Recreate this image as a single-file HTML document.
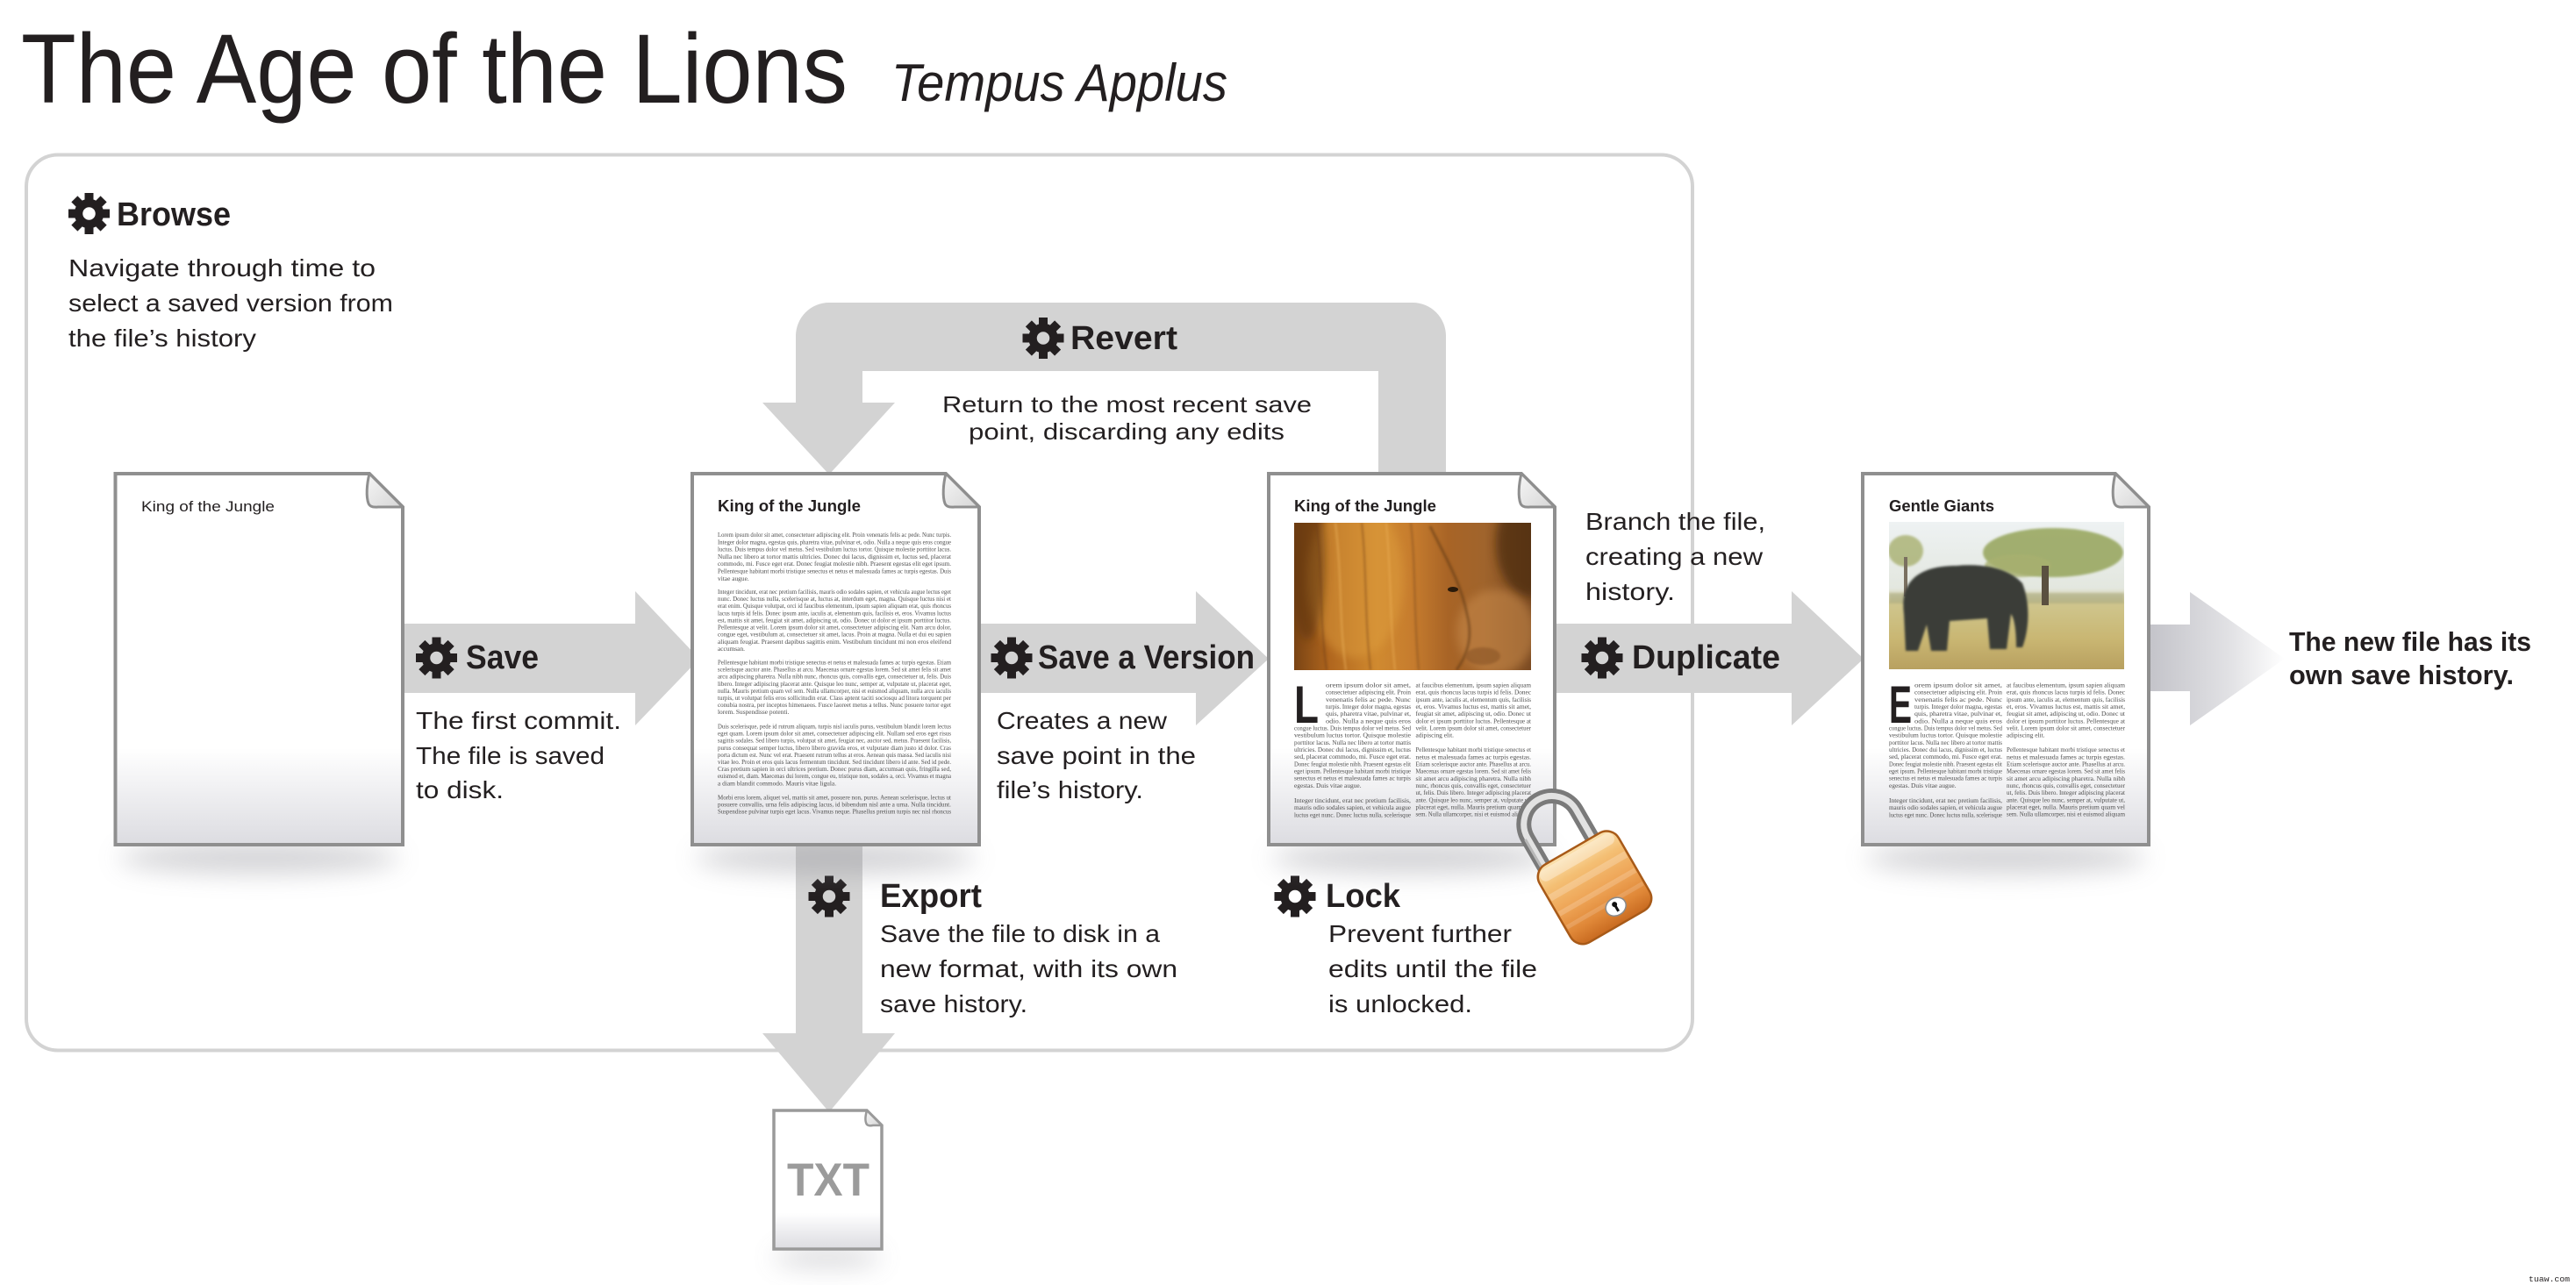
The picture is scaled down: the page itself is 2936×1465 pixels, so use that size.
<!DOCTYPE html>
<html><head><meta charset="utf-8">
<style>
html,body{margin:0;padding:0;background:#fff;}
svg{display:block;}
text{font-family:"Liberation Sans",sans-serif;fill:#231f20;}
.h{font-size:38px;font-weight:bold;}
.d{font-size:28px;}
.r{font-size:26px;}
.s{font-family:"Liberation Serif",serif;font-size:7.4px;fill:#4e4e4e;}
.t{font-size:18px;font-weight:bold;}
</style></head><body>
<svg width="2936" height="1465" viewBox="0 0 2936 1465" xmlns="http://www.w3.org/2000/svg">
<defs>
 <linearGradient id="docg" x1="0" y1="0" x2="0" y2="1">
  <stop offset="0" stop-color="#fff"/><stop offset="0.74" stop-color="#fff"/><stop offset="1" stop-color="#dcdce1"/>
 </linearGradient>
 <linearGradient id="curl" x1="0" y1="0" x2="1" y2="1">
  <stop offset="0" stop-color="#f6f6f6"/><stop offset="1" stop-color="#d6d6d6"/>
 </linearGradient>
 <linearGradient id="fg" gradientUnits="userSpaceOnUse" x1="2451" y1="0" x2="2604" y2="0">
  <stop offset="0" stop-color="#c4c4ca"/><stop offset="0.6" stop-color="#e2e2e5"/><stop offset="1" stop-color="#ffffff"/>
 </linearGradient>
 <linearGradient id="lion" x1="0" y1="0" x2="1" y2="0">
  <stop offset="0" stop-color="#7a4414"/><stop offset="0.15" stop-color="#b0661e"/><stop offset="0.35" stop-color="#d08a30"/>
  <stop offset="0.5" stop-color="#c67c2e"/><stop offset="0.65" stop-color="#a86426"/><stop offset="0.8" stop-color="#a0642c"/>
  <stop offset="1" stop-color="#7a4a22"/>
 </linearGradient>
 <linearGradient id="sky" x1="0" y1="0" x2="0" y2="1">
  <stop offset="0" stop-color="#eef2f3"/><stop offset="0.45" stop-color="#e3e7df"/><stop offset="0.55" stop-color="#cfc68e"/>
  <stop offset="0.8" stop-color="#c9b672"/><stop offset="1" stop-color="#b8a060"/>
 </linearGradient>
 <linearGradient id="lockg" x1="0" y1="0" x2="0" y2="1">
  <stop offset="0" stop-color="#fbe2b0"/><stop offset="0.25" stop-color="#f4bf74"/><stop offset="0.55" stop-color="#eea456"/>
  <stop offset="0.8" stop-color="#e08838"/><stop offset="1" stop-color="#c86a20"/>
 </linearGradient>
 <filter id="bl" x="-50%" y="-150%" width="200%" height="400%"><feGaussianBlur stdDeviation="14"/></filter>
 <filter id="b2" x="-30%" y="-30%" width="160%" height="160%"><feGaussianBlur stdDeviation="5"/></filter>
 <filter id="b1" x="-20%" y="-20%" width="140%" height="140%"><feGaussianBlur stdDeviation="1.2"/></filter>
 <clipPath id="lc"><rect x="1475" y="596" width="270" height="168"/></clipPath>
 <clipPath id="ec"><rect x="2153" y="595" width="268" height="168"/></clipPath>
 <g id="gear" fill="#231f20">
  <circle r="12" fill="none" stroke="#231f20" stroke-width="9.5"/>
  <rect x="-5" y="-23.5" width="10" height="9"/>
  <rect x="-5" y="-23.5" width="10" height="9" transform="rotate(45)"/>
  <rect x="-5" y="-23.5" width="10" height="9" transform="rotate(90)"/>
  <rect x="-5" y="-23.5" width="10" height="9" transform="rotate(135)"/>
  <rect x="-5" y="-23.5" width="10" height="9" transform="rotate(180)"/>
  <rect x="-5" y="-23.5" width="10" height="9" transform="rotate(225)"/>
  <rect x="-5" y="-23.5" width="10" height="9" transform="rotate(270)"/>
  <rect x="-5" y="-23.5" width="10" height="9" transform="rotate(315)"/>
 </g>
</defs>

<!-- Title -->
<text x="24" y="117" font-size="112" textLength="942" lengthAdjust="spacingAndGlyphs">The Age of the Lions</text>
<text x="1016" y="115" font-size="60" font-style="italic" textLength="383" lengthAdjust="spacingAndGlyphs">Tempus Applus</text>

<!-- Big box -->
<rect x="30" y="176.5" width="1899" height="1021" rx="36" fill="none" stroke="#d3d3d3" stroke-width="4"/>

<!-- Browse -->
<use href="#gear" x="101.5" y="243.5"/>
<text class="h" x="133" y="257" textLength="130" lengthAdjust="spacingAndGlyphs">Browse</text>
<text class="d" x="78" y="315" textLength="350" lengthAdjust="spacingAndGlyphs">Navigate through time to</text>
<text class="d" x="78" y="355" textLength="370" lengthAdjust="spacingAndGlyphs">select a saved version from</text>
<text class="d" x="78" y="395" textLength="214" lengthAdjust="spacingAndGlyphs">the file’s history</text>

<!-- Revert loop -->
<path fill="#d3d3d3" d="M907,459 V383 A38,38 0 0 1 945,345 H1610 A38,38 0 0 1 1648,383 V545 H1571 V423 H983 V459 Z"/>
<polygon fill="#d3d3d3" points="869,459 1020,459 945,541"/>
<use href="#gear" x="1189" y="385.5"/>
<text class="h" x="1220" y="398" textLength="122" lengthAdjust="spacingAndGlyphs">Revert</text>
<text class="r" x="1074" y="470" textLength="421" lengthAdjust="spacingAndGlyphs">Return to the most recent save</text>
<text class="r" x="1104" y="501" textLength="360" lengthAdjust="spacingAndGlyphs">point, discarding any edits</text>

<!-- Export -->
<rect x="907" y="958" width="76" height="222" fill="#d3d3d3"/>
<polygon fill="#d3d3d3" points="869,1178 1020,1178 945,1268"/>
<use href="#gear" x="945" y="1022"/>
<text class="h" x="1003" y="1034" textLength="116" lengthAdjust="spacingAndGlyphs">Export</text>
<text class="d" x="1003" y="1074" textLength="319" lengthAdjust="spacingAndGlyphs">Save the file to disk in a</text>
<text class="d" x="1003" y="1114" textLength="339" lengthAdjust="spacingAndGlyphs">new format, with its own</text>
<text class="d" x="1003" y="1154" textLength="168" lengthAdjust="spacingAndGlyphs">save history.</text>

<!-- Lock -->
<use href="#gear" x="1476" y="1022"/>
<text class="h" x="1511" y="1034" textLength="85" lengthAdjust="spacingAndGlyphs">Lock</text>
<text class="d" x="1514" y="1074" textLength="209" lengthAdjust="spacingAndGlyphs">Prevent further</text>
<text class="d" x="1514" y="1114" textLength="238" lengthAdjust="spacingAndGlyphs">edits until the file</text>
<text class="d" x="1514" y="1154" textLength="164" lengthAdjust="spacingAndGlyphs">is unlocked.</text>

<!-- Save arrow -->
<rect x="455" y="711" width="271" height="79" fill="#d3d3d3"/>
<polygon fill="#d3d3d3" points="724,674 797,751 724,827"/>
<use href="#gear" x="497.5" y="750"/>
<text class="h" x="531" y="762" textLength="83" lengthAdjust="spacingAndGlyphs">Save</text>
<text class="d" x="474" y="831" textLength="234" lengthAdjust="spacingAndGlyphs">The first commit.</text>
<text class="d" x="474" y="871" textLength="215" lengthAdjust="spacingAndGlyphs">The file is saved</text>
<text class="d" x="474" y="910" textLength="100" lengthAdjust="spacingAndGlyphs">to disk.</text>

<!-- Save a Version arrow -->
<rect x="1112" y="711" width="253" height="79" fill="#d3d3d3"/>
<polygon fill="#d3d3d3" points="1363,674 1446,751 1363,827"/>
<use href="#gear" x="1153" y="750"/>
<text class="h" x="1183" y="762" textLength="247" lengthAdjust="spacingAndGlyphs">Save a Version</text>
<text class="d" x="1136" y="831" textLength="194" lengthAdjust="spacingAndGlyphs">Creates a new</text>
<text class="d" x="1136" y="871" textLength="227" lengthAdjust="spacingAndGlyphs">save point in the</text>
<text class="d" x="1136" y="910" textLength="167" lengthAdjust="spacingAndGlyphs">file’s history.</text>

<!-- Duplicate arrow -->
<rect x="1768" y="711" width="276" height="79" fill="#d3d3d3"/>
<polygon fill="#d3d3d3" points="2042,674 2124,751 2042,827"/>
<use href="#gear" x="1826" y="750"/>
<text class="h" x="1860" y="762" textLength="169" lengthAdjust="spacingAndGlyphs">Duplicate</text>
<text class="d" x="1807" y="604" textLength="205" lengthAdjust="spacingAndGlyphs">Branch the file,</text>
<text class="d" x="1807" y="644" textLength="202" lengthAdjust="spacingAndGlyphs">creating a new</text>
<text class="d" x="1807" y="684" textLength="102" lengthAdjust="spacingAndGlyphs">history.</text>

<!-- Final arrow -->
<path fill="url(#fg)" d="M2449,712 H2496 V675 L2604,751 L2496,827 V788 H2449 Z"/>
<text x="2609" y="742" font-size="31" font-weight="bold" textLength="276" lengthAdjust="spacingAndGlyphs">The new file has its</text>
<text x="2609" y="780" font-size="31" font-weight="bold" textLength="256" lengthAdjust="spacingAndGlyphs">own save history.</text>

<!-- Shadows -->
<ellipse cx="295" cy="978" rx="160" ry="18" fill="#8c8c94" opacity="0.38" filter="url(#bl)"/>
<ellipse cx="952" cy="978" rx="160" ry="18" fill="#8c8c94" opacity="0.38" filter="url(#bl)"/>
<ellipse cx="1609" cy="978" rx="160" ry="18" fill="#8c8c94" opacity="0.38" filter="url(#bl)"/>
<ellipse cx="2286" cy="978" rx="160" ry="18" fill="#8c8c94" opacity="0.38" filter="url(#bl)"/>
<ellipse cx="943" cy="1434" rx="62" ry="9" fill="#8c8c94" opacity="0.4" filter="url(#bl)"/>

<!-- Doc 1 -->
<path d="M131.5,540 H421 L459,578 V963 H131.5 Z" fill="url(#docg)" stroke="#8f8f8f" stroke-width="4"/>
<path d="M421,540 C418,552 417,566 420,574 Q422,579 431,578 L459,578 Z" fill="url(#curl)" stroke="#8f8f8f" stroke-width="3" stroke-linejoin="round"/>
<text x="161" y="583" font-size="17" textLength="152" lengthAdjust="spacingAndGlyphs">King of the Jungle</text>

<!-- Doc 2 -->
<path d="M789,540 H1078 L1116,578 V963 H789 Z" fill="url(#docg)" stroke="#8f8f8f" stroke-width="4"/>
<path d="M1078,540 C1075,552 1074,566 1077,574 Q1079,579 1088,578 L1116,578 Z" fill="url(#curl)" stroke="#8f8f8f" stroke-width="3" stroke-linejoin="round"/>
<text class="t" x="818" y="583" textLength="163" lengthAdjust="spacingAndGlyphs">King of the Jungle</text>
<g>
<text class="s" x="818" y="612" textLength="266" lengthAdjust="spacingAndGlyphs">Lorem ipsum dolor sit amet, consectetuer adipiscing elit. Proin venenatis felis ac pede. Nunc turpis.</text>
<text class="s" x="818" y="620.3" textLength="266" lengthAdjust="spacingAndGlyphs">Integer dolor magna, egestas quis, pharetra vitae, pulvinar et, odio. Nulla a neque quis eros congue</text>
<text class="s" x="818" y="628.6" textLength="266" lengthAdjust="spacingAndGlyphs">luctus. Duis tempus dolor vel metus. Sed vestibulum luctus tortor. Quisque molestie porttitor lacus.</text>
<text class="s" x="818" y="636.9" textLength="266" lengthAdjust="spacingAndGlyphs">Nulla nec libero at tortor mattis ultricies. Donec dui lacus, dignissim et, luctus sed, placerat</text>
<text class="s" x="818" y="645.2" textLength="266" lengthAdjust="spacingAndGlyphs">commodo, mi. Fusce eget erat. Donec feugiat molestie nibh. Praesent egestas elit eget ipsum.</text>
<text class="s" x="818" y="653.5" textLength="266" lengthAdjust="spacingAndGlyphs">Pellentesque habitant morbi tristique senectus et netus et malesuada fames ac turpis egestas. Duis</text>
<text class="s" x="818" y="661.8">vitae augue.</text>

<text class="s" x="818" y="677" textLength="266" lengthAdjust="spacingAndGlyphs">Integer tincidunt, erat nec pretium facilisis, mauris odio sodales sapien, et vehicula augue lectus eget</text>
<text class="s" x="818" y="685.1" textLength="266" lengthAdjust="spacingAndGlyphs">nunc. Donec luctus nulla, scelerisque at, luctus at, interdum eget, magna. Quisque luctus nisi et</text>
<text class="s" x="818" y="693.2" textLength="266" lengthAdjust="spacingAndGlyphs">erat enim. Quisque volutpat, orci id faucibus elementum, ipsum sapien aliquam erat, quis rhoncus</text>
<text class="s" x="818" y="701.4" textLength="266" lengthAdjust="spacingAndGlyphs">lacus turpis id felis. Donec ipsum ante, iaculis at, elementum quis, facilisis et, eros. Vivamus luctus</text>
<text class="s" x="818" y="709.5" textLength="266" lengthAdjust="spacingAndGlyphs">est, mattis sit amet, feugiat sit amet, adipiscing ut, odio. Donec ut dolor et ipsum porttitor luctus.</text>
<text class="s" x="818" y="717.6" textLength="266" lengthAdjust="spacingAndGlyphs">Pellentesque at velit. Lorem ipsum dolor sit amet, consectetuer adipiscing elit. Nam arcu dolor,</text>
<text class="s" x="818" y="725.7" textLength="266" lengthAdjust="spacingAndGlyphs">congue eget, vestibulum at, consectetuer sit amet, lacus. Proin at magna. Nulla et dui eu sapien</text>
<text class="s" x="818" y="733.8" textLength="266" lengthAdjust="spacingAndGlyphs">aliquam feugiat. Praesent dapibus sagittis enim. Vestibulum tincidunt mi non eros eleifend</text>
<text class="s" x="818" y="742">accumsan.</text>

<text class="s" x="818" y="757.5" textLength="266" lengthAdjust="spacingAndGlyphs">Pellentesque habitant morbi tristique senectus et netus et malesuada fames ac turpis egestas. Etiam</text>
<text class="s" x="818" y="765.6" textLength="266" lengthAdjust="spacingAndGlyphs">scelerisque auctor ante. Phasellus at arcu. Maecenas ornare egestas lorem. Sed sit amet felis sit amet</text>
<text class="s" x="818" y="773.7" textLength="266" lengthAdjust="spacingAndGlyphs">arcu adipiscing pharetra. Nulla nibh nunc, rhoncus quis, convallis eget, consectetuer ut, felis. Duis</text>
<text class="s" x="818" y="781.8" textLength="266" lengthAdjust="spacingAndGlyphs">libero. Integer adipiscing placerat ante. Quisque leo nunc, semper at, vulputate ut, placerat eget,</text>
<text class="s" x="818" y="789.9" textLength="266" lengthAdjust="spacingAndGlyphs">nulla. Mauris pretium quam vel sem. Nulla ullamcorper, nisi et euismod aliquam, nulla arcu iaculis</text>
<text class="s" x="818" y="798" textLength="266" lengthAdjust="spacingAndGlyphs">turpis, ut volutpat felis eros sollicitudin erat. Class aptent taciti sociosqu ad litora torquent per</text>
<text class="s" x="818" y="806.1" textLength="266" lengthAdjust="spacingAndGlyphs">conubia nostra, per inceptos himenaeos. Fusce laoreet metus a tellus. Nunc posuere tortor eget</text>
<text class="s" x="818" y="814.2">lorem. Suspendisse potenti.</text>

<text class="s" x="818" y="830.5" textLength="266" lengthAdjust="spacingAndGlyphs">Duis scelerisque, pede id rutrum aliquam, turpis nisl iaculis purus, vestibulum blandit lorem lectus</text>
<text class="s" x="818" y="838.6" textLength="266" lengthAdjust="spacingAndGlyphs">eget quam. Lorem ipsum dolor sit amet, consectetuer adipiscing elit. Nullam sed eros eget risus</text>
<text class="s" x="818" y="846.7" textLength="266" lengthAdjust="spacingAndGlyphs">sagittis sodales. Sed libero turpis, volutpat sit amet, feugiat nec, auctor sed, metus. Praesent facilisis,</text>
<text class="s" x="818" y="854.8" textLength="266" lengthAdjust="spacingAndGlyphs">purus consequat semper luctus, libero libero gravida eros, et vulputate diam justo id dolor. Cras</text>
<text class="s" x="818" y="862.9" textLength="266" lengthAdjust="spacingAndGlyphs">porta dictum est. Nunc vel erat. Praesent rutrum tellus at eros. Aenean quis massa. Sed iaculis nisi</text>
<text class="s" x="818" y="871" textLength="266" lengthAdjust="spacingAndGlyphs">vitae leo. Proin et eros quis lacus fermentum tincidunt. Sed tincidunt libero id ante. Sed id pede.</text>
<text class="s" x="818" y="879.1" textLength="266" lengthAdjust="spacingAndGlyphs">Cras pretium sapien in orci ultrices pretium. Donec purus diam, accumsan quis, fringilla sed,</text>
<text class="s" x="818" y="887.2" textLength="266" lengthAdjust="spacingAndGlyphs">euismod et, diam. Maecenas dui lorem, congue eu, tristique non, sodales a, orci. Vivamus et magna</text>
<text class="s" x="818" y="895.3">a diam blandit commodo. Mauris vitae ligula.</text>

<text class="s" x="818" y="911.5" textLength="266" lengthAdjust="spacingAndGlyphs">Morbi eros lorem, aliquet vel, mattis sit amet, posuere non, purus. Aenean scelerisque, lectus ut</text>
<text class="s" x="818" y="919.6" textLength="266" lengthAdjust="spacingAndGlyphs">posuere convallis, urna felis adipiscing lacus, id bibendum nisl ante a urna. Nulla tincidunt.</text>
<text class="s" x="818" y="927.7" textLength="266" lengthAdjust="spacingAndGlyphs">Suspendisse pulvinar turpis eget lacus. Vivamus neque. Phasellus pretium turpis nec nisl rhoncus</text>
</g>

<!-- Doc 3 -->
<path d="M1446,540 H1734 L1772,578 V963 H1446 Z" fill="url(#docg)" stroke="#8f8f8f" stroke-width="4"/>
<path d="M1734,540 C1731,552 1730,566 1733,574 Q1735,579 1744,578 L1772,578 Z" fill="url(#curl)" stroke="#8f8f8f" stroke-width="3" stroke-linejoin="round"/>
<text class="t" x="1475" y="583" textLength="162" lengthAdjust="spacingAndGlyphs">King of the Jungle</text>
<g clip-path="url(#lc)">
 <rect x="1475" y="596" width="270" height="168" fill="url(#lion)"/>
 <ellipse cx="1545" cy="660" rx="55" ry="90" fill="#e0a040" opacity="0.45" filter="url(#b2)"/>
 <ellipse cx="1490" cy="640" rx="20" ry="90" fill="#5a300c" opacity="0.55" filter="url(#b2)"/>
 <ellipse cx="1745" cy="620" rx="40" ry="60" fill="#4a2a10" opacity="0.7" filter="url(#b2)"/>
 <ellipse cx="1705" cy="720" rx="45" ry="48" fill="#c88a4c" opacity="0.55" filter="url(#b2)"/>
 <g filter="url(#b1)" stroke-width="2" fill="none" opacity="0.5">
  <path d="M1500,596 C1508,650 1503,700 1512,764" stroke="#6a3a12"/>
  <path d="M1522,596 C1530,660 1526,710 1534,764" stroke="#f0b860"/>
  <path d="M1552,596 C1558,650 1555,700 1562,764" stroke="#7a4416"/>
  <path d="M1580,596 C1586,660 1584,710 1590,764" stroke="#eeb25a"/>
  <path d="M1608,596 C1614,650 1611,700 1617,764" stroke="#7a4a1a"/>
 </g>
 <path d="M1630,600 C1650,640 1665,665 1672,700 C1680,730 1670,750 1660,764" fill="none" stroke="#5a3412" stroke-width="3" opacity="0.5" filter="url(#b1)"/>
 <ellipse cx="1656" cy="672" rx="6" ry="3" fill="#2a1a0a"/>
 <ellipse cx="1690" cy="748" rx="20" ry="10" fill="#8a5428" opacity="0.6" filter="url(#b1)"/>
</g>
<text x="1475" y="824" font-size="60" font-weight="bold" textLength="28" lengthAdjust="spacingAndGlyphs">L</text>
<g>
<text class="s" x="1511" y="783.5" textLength="97" lengthAdjust="spacingAndGlyphs">orem ipsum dolor sit amet,</text>
<text class="s" x="1511" y="791.7" textLength="97" lengthAdjust="spacingAndGlyphs">consectetuer adipiscing elit. Proin</text>
<text class="s" x="1511" y="799.8" textLength="97" lengthAdjust="spacingAndGlyphs">venenatis felis ac pede. Nunc</text>
<text class="s" x="1511" y="808" textLength="97" lengthAdjust="spacingAndGlyphs">turpis. Integer dolor magna, egestas</text>
<text class="s" x="1511" y="816.2" textLength="97" lengthAdjust="spacingAndGlyphs">quis, pharetra vitae, pulvinar et,</text>
<text class="s" x="1511" y="824.4" textLength="97" lengthAdjust="spacingAndGlyphs">odio. Nulla a neque quis eros</text>
<text class="s" x="1475" y="832.5" textLength="133" lengthAdjust="spacingAndGlyphs">congue luctus. Duis tempus dolor vel metus. Sed</text>
<text class="s" x="1475" y="840.7" textLength="133" lengthAdjust="spacingAndGlyphs">vestibulum luctus tortor. Quisque molestie</text>
<text class="s" x="1475" y="848.9" textLength="133" lengthAdjust="spacingAndGlyphs">porttitor lacus. Nulla nec libero at tortor mattis</text>
<text class="s" x="1475" y="857" textLength="133" lengthAdjust="spacingAndGlyphs">ultricies. Donec dui lacus, dignissim et, luctus</text>
<text class="s" x="1475" y="865.2" textLength="133" lengthAdjust="spacingAndGlyphs">sed, placerat commodo, mi. Fusce eget erat.</text>
<text class="s" x="1475" y="873.4" textLength="133" lengthAdjust="spacingAndGlyphs">Donec feugiat molestie nibh. Praesent egestas elit</text>
<text class="s" x="1475" y="881.5" textLength="133" lengthAdjust="spacingAndGlyphs">eget ipsum. Pellentesque habitant morbi tristique</text>
<text class="s" x="1475" y="889.7" textLength="133" lengthAdjust="spacingAndGlyphs">senectus et netus et malesuada fames ac turpis</text>
<text class="s" x="1475" y="897.9">egestas. Duis vitae augue.</text>
<text class="s" x="1475" y="915" textLength="133" lengthAdjust="spacingAndGlyphs">Integer tincidunt, erat nec pretium facilisis,</text>
<text class="s" x="1475" y="923.2" textLength="133" lengthAdjust="spacingAndGlyphs">mauris odio sodales sapien, et vehicula augue</text>
<text class="s" x="1475" y="931.4" textLength="133" lengthAdjust="spacingAndGlyphs">luctus eget nunc. Donec luctus nulla, scelerisque</text>

<text class="s" x="1613.5" y="783.5" textLength="131.5" lengthAdjust="spacingAndGlyphs">at faucibus elementum, ipsum sapien aliquam</text>
<text class="s" x="1613.5" y="791.7" textLength="131.5" lengthAdjust="spacingAndGlyphs">erat, quis rhoncus lacus turpis id felis. Donec</text>
<text class="s" x="1613.5" y="799.8" textLength="131.5" lengthAdjust="spacingAndGlyphs">ipsum ante, iaculis at, elementum quis, facilisis</text>
<text class="s" x="1613.5" y="808" textLength="131.5" lengthAdjust="spacingAndGlyphs">et, eros. Vivamus luctus est, mattis sit amet,</text>
<text class="s" x="1613.5" y="816.2" textLength="131.5" lengthAdjust="spacingAndGlyphs">feugiat sit amet, adipiscing ut, odio. Donec ut</text>
<text class="s" x="1613.5" y="824.4" textLength="131.5" lengthAdjust="spacingAndGlyphs">dolor et ipsum porttitor luctus. Pellentesque at</text>
<text class="s" x="1613.5" y="832.5" textLength="131.5" lengthAdjust="spacingAndGlyphs">velit. Lorem ipsum dolor sit amet, consectetuer</text>
<text class="s" x="1613.5" y="840.7">adipiscing elit.</text>
<text class="s" x="1613.5" y="857.2" textLength="131.5" lengthAdjust="spacingAndGlyphs">Pellentesque habitant morbi tristique senectus et</text>
<text class="s" x="1613.5" y="865.4" textLength="131.5" lengthAdjust="spacingAndGlyphs">netus et malesuada fames ac turpis egestas.</text>
<text class="s" x="1613.5" y="873.5" textLength="131.5" lengthAdjust="spacingAndGlyphs">Etiam scelerisque auctor ante. Phasellus at arcu.</text>
<text class="s" x="1613.5" y="881.7" textLength="131.5" lengthAdjust="spacingAndGlyphs">Maecenas ornare egestas lorem. Sed sit amet felis</text>
<text class="s" x="1613.5" y="889.9" textLength="131.5" lengthAdjust="spacingAndGlyphs">sit amet arcu adipiscing pharetra. Nulla nibh</text>
<text class="s" x="1613.5" y="898" textLength="131.5" lengthAdjust="spacingAndGlyphs">nunc, rhoncus quis, convallis eget, consectetuer</text>
<text class="s" x="1613.5" y="906.2" textLength="131.5" lengthAdjust="spacingAndGlyphs">ut, felis. Duis libero. Integer adipiscing placerat</text>
<text class="s" x="1613.5" y="914.4" textLength="131.5" lengthAdjust="spacingAndGlyphs">ante. Quisque leo nunc, semper at, vulputate ut,</text>
<text class="s" x="1613.5" y="922.6" textLength="131.5" lengthAdjust="spacingAndGlyphs">placerat eget, nulla. Mauris pretium quam vel</text>
<text class="s" x="1613.5" y="930.7" textLength="131.5" lengthAdjust="spacingAndGlyphs">sem. Nulla ullamcorper, nisi et euismod aliquam</text>
</g>

<!-- Doc 4 -->
<path d="M2123,540 H2411 L2449,578 V963 H2123 Z" fill="url(#docg)" stroke="#8f8f8f" stroke-width="4"/>
<path d="M2411,540 C2408,552 2407,566 2410,574 Q2412,579 2421,578 L2449,578 Z" fill="url(#curl)" stroke="#8f8f8f" stroke-width="3" stroke-linejoin="round"/>
<text class="t" x="2153" y="583" textLength="120" lengthAdjust="spacingAndGlyphs">Gentle Giants</text>
<g clip-path="url(#ec)">
 <rect x="2153" y="595" width="268" height="168" fill="url(#sky)"/>
 <rect x="2153" y="676" width="268" height="12" fill="#a8a87e" opacity="0.6" filter="url(#b1)"/>
 <ellipse cx="2340" cy="630" rx="80" ry="28" fill="#9aa862" opacity="0.9" filter="url(#b1)"/>
 <ellipse cx="2300" cy="645" rx="38" ry="13" fill="#a8b070" opacity="0.8" filter="url(#b1)"/>
 <rect x="2327" y="645" width="8" height="45" fill="#5a5040"/>
 <ellipse cx="2172" cy="628" rx="20" ry="18" fill="#a8b070" opacity="0.8" filter="url(#b1)"/>
 <rect x="2170" y="635" width="4" height="45" fill="#7a7060"/>
 <path d="M2170,700 C2165,660 2190,645 2230,645 C2260,642 2290,648 2305,665 C2315,690 2312,720 2305,738 L2298,738 C2298,720 2296,705 2292,700 L2287,740 L2268,740 L2265,705 L2222,708 L2219,742 L2201,742 L2196,712 L2186,742 L2172,742 Z" fill="#3a3c38" filter="url(#b1)"/>
</g>
<text x="2153" y="824" font-size="60" font-weight="bold" textLength="26" lengthAdjust="spacingAndGlyphs">E</text>
<g>
<text class="s" x="2182" y="783.5" textLength="100" lengthAdjust="spacingAndGlyphs">orem ipsum dolor sit amet,</text>
<text class="s" x="2182" y="791.7" textLength="100" lengthAdjust="spacingAndGlyphs">consectetuer adipiscing elit. Proin</text>
<text class="s" x="2182" y="799.8" textLength="100" lengthAdjust="spacingAndGlyphs">venenatis felis ac pede. Nunc</text>
<text class="s" x="2182" y="808" textLength="100" lengthAdjust="spacingAndGlyphs">turpis. Integer dolor magna, egestas</text>
<text class="s" x="2182" y="816.2" textLength="100" lengthAdjust="spacingAndGlyphs">quis, pharetra vitae, pulvinar et,</text>
<text class="s" x="2182" y="824.4" textLength="100" lengthAdjust="spacingAndGlyphs">odio. Nulla a neque quis eros</text>
<text class="s" x="2153" y="832.5" textLength="129" lengthAdjust="spacingAndGlyphs">congue luctus. Duis tempus dolor vel metus. Sed</text>
<text class="s" x="2153" y="840.7" textLength="129" lengthAdjust="spacingAndGlyphs">vestibulum luctus tortor. Quisque molestie</text>
<text class="s" x="2153" y="848.9" textLength="129" lengthAdjust="spacingAndGlyphs">porttitor lacus. Nulla nec libero at tortor mattis</text>
<text class="s" x="2153" y="857" textLength="129" lengthAdjust="spacingAndGlyphs">ultricies. Donec dui lacus, dignissim et, luctus</text>
<text class="s" x="2153" y="865.2" textLength="129" lengthAdjust="spacingAndGlyphs">sed, placerat commodo, mi. Fusce eget erat.</text>
<text class="s" x="2153" y="873.4" textLength="129" lengthAdjust="spacingAndGlyphs">Donec feugiat molestie nibh. Praesent egestas elit</text>
<text class="s" x="2153" y="881.5" textLength="129" lengthAdjust="spacingAndGlyphs">eget ipsum. Pellentesque habitant morbi tristique</text>
<text class="s" x="2153" y="889.7" textLength="129" lengthAdjust="spacingAndGlyphs">senectus et netus et malesuada fames ac turpis</text>
<text class="s" x="2153" y="897.9">egestas. Duis vitae augue.</text>
<text class="s" x="2153" y="915" textLength="129" lengthAdjust="spacingAndGlyphs">Integer tincidunt, erat nec pretium facilisis,</text>
<text class="s" x="2153" y="923.2" textLength="129" lengthAdjust="spacingAndGlyphs">mauris odio sodales sapien, et vehicula augue</text>
<text class="s" x="2153" y="931.4" textLength="129" lengthAdjust="spacingAndGlyphs">luctus eget nunc. Donec luctus nulla, scelerisque</text>

<text class="s" x="2287" y="783.5" textLength="135" lengthAdjust="spacingAndGlyphs">at faucibus elementum, ipsum sapien aliquam</text>
<text class="s" x="2287" y="791.7" textLength="135" lengthAdjust="spacingAndGlyphs">erat, quis rhoncus lacus turpis id felis. Donec</text>
<text class="s" x="2287" y="799.8" textLength="135" lengthAdjust="spacingAndGlyphs">ipsum ante, iaculis at, elementum quis, facilisis</text>
<text class="s" x="2287" y="808" textLength="135" lengthAdjust="spacingAndGlyphs">et, eros. Vivamus luctus est, mattis sit amet,</text>
<text class="s" x="2287" y="816.2" textLength="135" lengthAdjust="spacingAndGlyphs">feugiat sit amet, adipiscing ut, odio. Donec ut</text>
<text class="s" x="2287" y="824.4" textLength="135" lengthAdjust="spacingAndGlyphs">dolor et ipsum porttitor luctus. Pellentesque at</text>
<text class="s" x="2287" y="832.5" textLength="135" lengthAdjust="spacingAndGlyphs">velit. Lorem ipsum dolor sit amet, consectetuer</text>
<text class="s" x="2287" y="840.7">adipiscing elit.</text>
<text class="s" x="2287" y="857.2" textLength="135" lengthAdjust="spacingAndGlyphs">Pellentesque habitant morbi tristique senectus et</text>
<text class="s" x="2287" y="865.4" textLength="135" lengthAdjust="spacingAndGlyphs">netus et malesuada fames ac turpis egestas.</text>
<text class="s" x="2287" y="873.5" textLength="135" lengthAdjust="spacingAndGlyphs">Etiam scelerisque auctor ante. Phasellus at arcu.</text>
<text class="s" x="2287" y="881.7" textLength="135" lengthAdjust="spacingAndGlyphs">Maecenas ornare egestas lorem. Sed sit amet felis</text>
<text class="s" x="2287" y="889.9" textLength="135" lengthAdjust="spacingAndGlyphs">sit amet arcu adipiscing pharetra. Nulla nibh</text>
<text class="s" x="2287" y="898" textLength="135" lengthAdjust="spacingAndGlyphs">nunc, rhoncus quis, convallis eget, consectetuer</text>
<text class="s" x="2287" y="906.2" textLength="135" lengthAdjust="spacingAndGlyphs">ut, felis. Duis libero. Integer adipiscing placerat</text>
<text class="s" x="2287" y="914.4" textLength="135" lengthAdjust="spacingAndGlyphs">ante. Quisque leo nunc, semper at, vulputate ut,</text>
<text class="s" x="2287" y="922.6" textLength="135" lengthAdjust="spacingAndGlyphs">placerat eget, nulla. Mauris pretium quam vel</text>
<text class="s" x="2287" y="930.7" textLength="135" lengthAdjust="spacingAndGlyphs">sem. Nulla ullamcorper, nisi et euismod aliquam</text>
</g>

<!-- TXT doc -->
<path d="M882,1266 H988 L1005,1283 V1424 H882 Z" fill="url(#docg)" stroke="#9a9a9a" stroke-width="3.5"/>
<path d="M988,1266 C986,1273 986,1279 988,1282 Q990,1284 995,1283 L1005,1283 Z" fill="url(#curl)" stroke="#9a9a9a" stroke-width="2.5" stroke-linejoin="round"/>
<text x="897" y="1363" font-size="53" font-weight="bold" style="fill:#9b9b9b" textLength="94" lengthAdjust="spacingAndGlyphs">TXT</text>

<!-- Padlock -->
<g transform="translate(1817,1011) rotate(-30)">
 <path d="M-38,-36 V-86 A32,32 0 0 1 26,-86 V-36" fill="none" stroke="#7a7a7a" stroke-width="17"/>
 <path d="M-38,-36 V-86 A32,32 0 0 1 26,-86 V-36" fill="none" stroke="#e2e2e2" stroke-width="7"/>
 <path d="M-41,-36 V-86" fill="none" stroke="#b8b8b8" stroke-width="3"/>
 <rect x="-52" y="-50" width="104" height="102" rx="16" fill="url(#lockg)" stroke="#a85a18" stroke-width="2.5"/>
 <rect x="-48" y="-46" width="96" height="14" rx="7" fill="#fff" opacity="0.35"/>
 <rect x="-50" y="-18" width="100" height="8" fill="#fff" opacity="0.22"/>
 <rect x="-50" y="4" width="100" height="6" fill="#fff" opacity="0.18"/>
 <rect x="-50" y="22" width="100" height="5" fill="#fff" opacity="0.15"/>
 <ellipse cx="10" cy="32" rx="12" ry="10" fill="#fff" stroke="#8a8a8a" stroke-width="1.5"/>
 <circle cx="10" cy="29" r="3" fill="#111"/>
 <rect x="8.5" y="29" width="3" height="9" fill="#111"/>
</g>

<!-- watermark -->
<text x="2882" y="1461" style="font-family:'Liberation Mono',monospace" font-size="9" fill="#333" textLength="47" lengthAdjust="spacingAndGlyphs">tuaw.com</text>
</svg>
</body></html>
